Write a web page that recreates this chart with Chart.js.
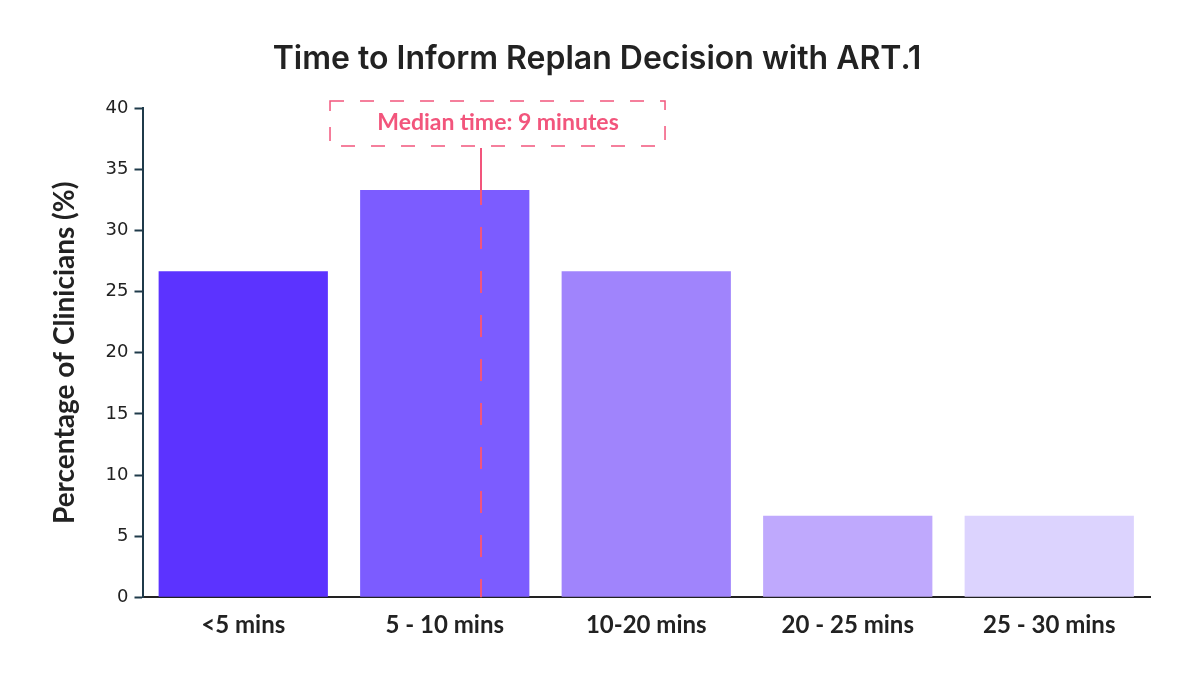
<!DOCTYPE html><html><head><meta charset="utf-8">
<script src="https://cdn.jsdelivr.net/npm/chart.js@4"></script>
<style>body{margin:0;background:#fff}#w{width:1200px;height:690px}</style></head><body><div id="w"><canvas id="c"></canvas></div>
<script>
const categories=["<5 mins","5 - 10 mins","10-20 mins","20 - 25 mins","25 - 30 mins"];
const values=[26.67,33.33,26.67,6.67,6.67];
const barColors=["#5c33ff","#7c5cff","#a084fc","#bfa9fd","#dcd3fe"];
const yTicks=[0,5,10,15,20,25,30,35,40];
const medianLabel="Median time: 9 minutes";
const medianPos=1.18;
const pink="#f2557c";
const median={id:"median",afterDatasetsDraw(ch){
 const c=ch.ctx,x=ch.scales.x.getPixelForValue(medianPos),yb=ch.scales.y.getPixelForValue(0);
 c.save();c.strokeStyle=pink;c.lineWidth=2;
 c.beginPath();c.moveTo(x,148);c.lineTo(x,205);c.stroke();
 c.setLineDash([22,22]);c.beginPath();c.moveTo(x,227);c.lineTo(x,yb);c.stroke();
 c.lineWidth=1.5;c.setLineDash([14,16]);c.strokeRect(x-151,101,335,45);
 c.setLineDash([]);c.fillStyle=pink;c.font="700 23px Lato";c.textAlign="center";c.textBaseline="middle";
 c.fillText(medianLabel,x+17,123);c.restore();}};
new Chart(document.getElementById("c"),{type:"bar",
 data:{labels:categories,datasets:[{data:values,backgroundColor:barColors,categoryPercentage:0.84,barPercentage:1}]},
 options:{responsive:true,maintainAspectRatio:false,animation:false,
 layout:{padding:{left:44,right:50,top:10,bottom:36}},
 plugins:{legend:{display:false},tooltip:{enabled:false},
  title:{display:true,text:"Time to Inform Replan Decision with ART.1",color:"#222",font:{family:"Inter",size:32,weight:"600"},padding:{top:30,bottom:30}}},
 scales:{
  x:{grid:{display:false,drawTicks:false},border:{color:"#222",width:2},ticks:{color:"#222",font:{family:"Lato",size:24,weight:"700"},padding:14}},
  y:{min:0,max:40,afterBuildTicks:a=>{a.ticks=yTicks.map(v=>({value:v}))},grid:{drawOnChartArea:false,tickLength:8,color:"#1f3a4a",tickWidth:2},border:{color:"#1f3a4a",width:2},
   ticks:{color:"#222",font:{family:"DejaVu Sans",size:18},padding:6},
   title:{display:true,text:"Percentage of Clinicians (%)",color:"#222",font:{family:"Lato",size:28,weight:"700"},padding:{bottom:18}}}}},
 plugins:[median]});
</script></body></html>
